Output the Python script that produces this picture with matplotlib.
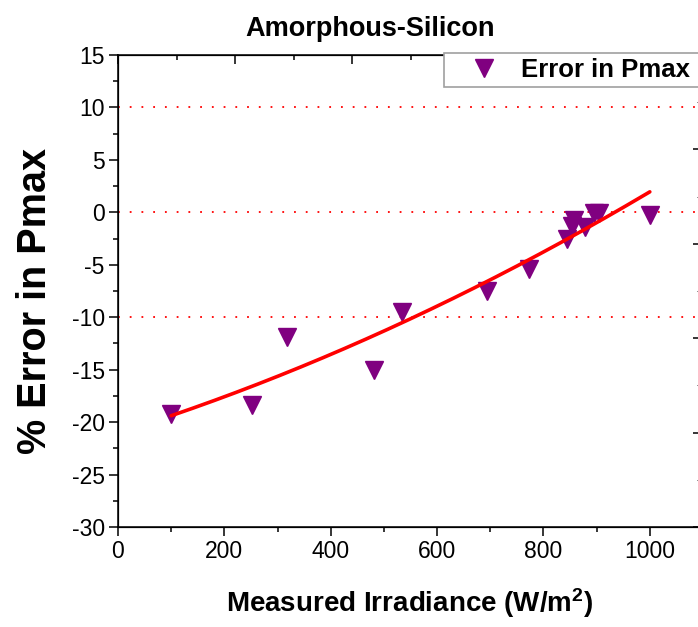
import numpy as np
import matplotlib
matplotlib.use("Agg")
import matplotlib.pyplot as plt
from matplotlib.ticker import MultipleLocator

plt.rcParams['font.family'] = ['Liberation Sans', 'DejaVu Sans']
plt.rcParams['mathtext.fontset'] = 'custom'
plt.rcParams['mathtext.rm'] = 'Liberation Sans:bold'
plt.rcParams['mathtext.bf'] = 'Liberation Sans:bold'
plt.rcParams['mathtext.it'] = 'Liberation Sans:bold'
plt.rcParams['axes.unicode_minus'] = False

# Data
irradiance = [100, 252, 318, 481, 534, 694, 773, 845, 853, 857, 878, 895, 905, 1000]
error_pmax = [-19.2, -18.4, -11.9, -15.0, -9.5, -7.5, -5.4, -2.5, -1.3, -0.7, -1.4, -0.1, -0.1, -0.3]
ref_lines = [10, 0, -10]
title = "Amorphous-Silicon"
xlabel = "Measured Irradiance (W/m$^{2}$)"
ylabel = "% Error in Pmax"
legend_label = "Error in Pmax"

W, H = 698, 627
fig = plt.figure(figsize=(W / 100, H / 100), dpi=100)
ax = fig.add_axes([118 / W, 1 - 527 / H, 585 / W, 472 / H])

purple = '#800080'
for v in ref_lines:
    ax.axhline(v, color='red', lw=1.3, linestyle=(0, (1, 5.5)), zorder=1)

pts, = ax.plot(irradiance, error_pmax, linestyle='none', marker='v', ms=13,
               color=purple, mec=purple, label=legend_label, zorder=3)

# quadratic fit of the data
coef = np.polyfit(irradiance, error_pmax, 2)
fx = np.linspace(min(irradiance), max(irradiance), 200)
ax.plot(fx, np.polyval(coef, fx), color='red', lw=2.6, zorder=4,
        solid_capstyle='round')

ax.set_xlim(0, 1100)
ax.set_ylim(-30, 15)
ax.set_xticks([0, 200, 400, 600, 800, 1000])
ax.xaxis.set_minor_locator(MultipleLocator(100))
ax.yaxis.set_major_locator(MultipleLocator(5))
ax.yaxis.set_minor_locator(MultipleLocator(2.5))
ax.tick_params(which='major', direction='out', length=6.5, width=1.1,
               labelsize=16.5, pad=3)
ax.tick_params(which='minor', direction='out', length=3.5, width=1.1)
ax.tick_params(top=False, right=False)
for s in ax.spines.values():
    s.set_linewidth(1.1)

# top secondary axis (inward ticks)
axt = ax.twiny()
axt.set_xlim(0, 5)
axt.xaxis.set_major_locator(MultipleLocator(1))
axt.xaxis.set_minor_locator(MultipleLocator(0.5))
axt.tick_params(axis='x', which='major', direction='in', length=6.5, width=1.1,
                labeltop=False, top=True)
axt.tick_params(axis='x', which='minor', direction='in', length=3.5, width=1.1)

# right secondary axis (inward ticks)
axr = ax.twinx()
axr.set_ylim(0, 5)
axr.yaxis.set_major_locator(MultipleLocator(1))
axr.yaxis.set_minor_locator(MultipleLocator(0.5))
axr.tick_params(axis='y', which='major', direction='in', length=7, width=1.1,
                labelright=False, right=True)
axr.tick_params(axis='y', which='minor', direction='in', length=4, width=0.6)

leg = axr.legend(handles=[pts], labels=[legend_label], loc='upper left',
                 bbox_to_anchor=(444 / W, 1 - 88 / H, 280 / W, 35 / H),
                 mode='expand',
                 bbox_transform=fig.transFigure, prop={'weight': 'bold', 'size': 18.5},
                 frameon=True, fancybox=False, handlelength=2.75, handletextpad=0.05,
                 borderpad=0.2, borderaxespad=0, numpoints=1, framealpha=1)
leg.get_frame().set_edgecolor('#a0a0a0')
leg.get_frame().set_linewidth(1.2)

fig.text(370 / W, 1 - 36 / H, title, ha='center', va='baseline',
         fontsize=19.5, fontweight='bold')
fig.text(35 / W, 1 - 301 / H, ylabel, ha='center', va='center', rotation=90,
         fontsize=28.5, fontweight='bold')
fig.text(410 / W, 1 - 612 / H, xlabel, ha='center', va='baseline',
         fontsize=20, fontweight='bold')

fig.savefig('out.png', dpi=100)
